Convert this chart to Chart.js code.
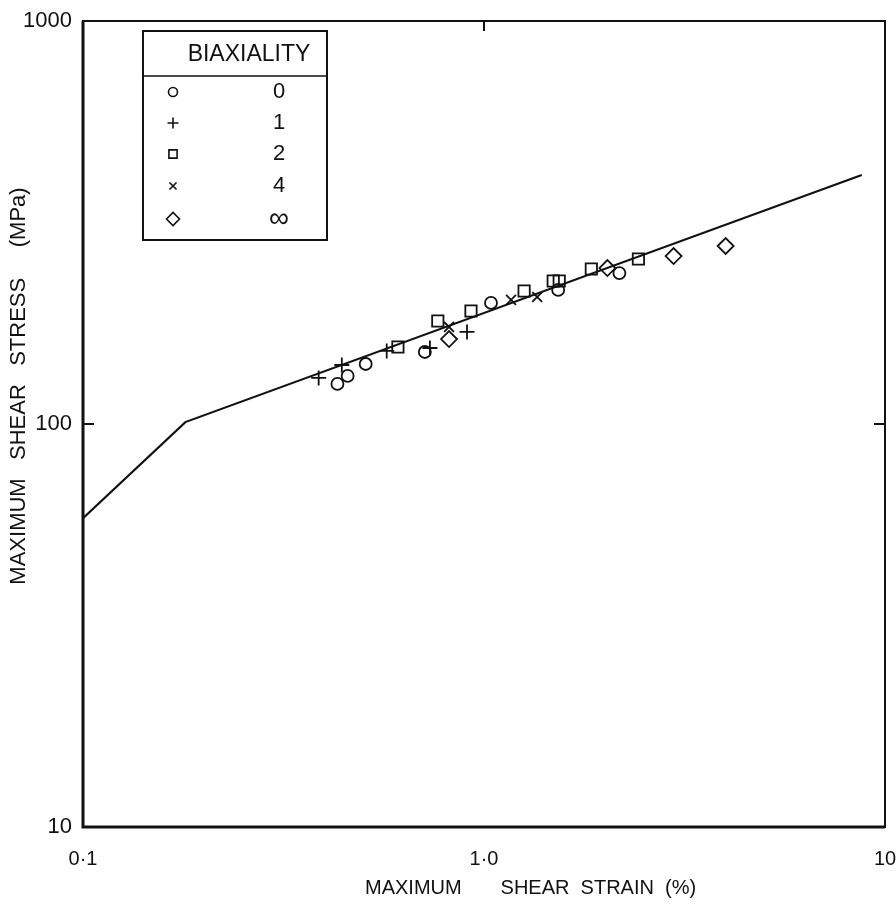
<!DOCTYPE html>
<html>
<head>
<meta charset="utf-8">
<script src="https://cdn.jsdelivr.net/npm/chart.js@4/dist/chart.umd.min.js"></script>
<style>
  body { margin: 0; background: #fff; }
  #shearChart { display: block; }
</style>
</head>
<body>
<canvas id="shearChart" width="896" height="905"></canvas>
<script>
// biaxiality ratio -> marker
const seriesLabels = ['0', '1', '2', '4', '\u221E'];
const seriesStyles = ['circle', 'cross', 'rect', 'crossRot', 'rectRot'];

// maximum shear strain (%) / maximum shear stress (MPa)
const strain0 = [0.431, 0.457, 0.507, 0.712, 1.041, 1.531, 2.176];
const stress0 = [125.7, 131.6, 140.9, 150.9, 199.7, 215.1, 236.9];

const strain1 = [0.387, 0.442, 0.572, 0.733, 0.907];
const stress1 = [130.1, 140.1, 151.8, 154.4, 169.2];

const strain2 = [0.610, 0.767, 0.928, 1.259, 1.488, 1.540, 1.852, 2.427];
const stress2 = [155.3, 180.1, 190.7, 213.8, 226.4, 226.4, 242.4, 256.7];

const strain4 = [0.818, 1.168, 1.357];
const stress4 = [174.1, 203.2, 206.6];

const strainInf = [0.818, 2.031, 2.970, 4.005];
const stressInf = [162.5, 243.8, 261.1, 276.5];

// fitted curve (two straight segments on log-log)
const fitStrain = [0.1, 0.18, 8.75];
const fitStress = [58.4, 101.1, 415];

// axis ticks
const xTickValues = [0.1, 1, 10];
const xTickLabels = ['0\u00B71', '1\u00B70', '10'];
const yTickValues = [10, 100, 1000];
const yTickLabels = ['10', '100', '1000'];

const FONT = "'Liberation Sans', Arial, 'DejaVu Sans', sans-serif";
const INK = '#111';

let toPoints = (xs, ys) => xs.map((x, i) => ({ x: x, y: ys[i] }));

const allStrain = [strain0, strain1, strain2, strain4, strainInf];
const allStress = [stress0, stress1, stress2, stress4, stressInf];
const markerSize = [6, 7.5, 8, 7, 8];

const datasets = [{
  label: 'fit',
  data: toPoints(fitStrain, fitStress),
  showLine: true,
  borderColor: INK,
  borderWidth: 2.2,
  pointRadius: 0,
  tension: 0
}];

seriesLabels.forEach((lab, i) => {
  datasets.push({
    label: lab,
    data: toPoints(allStrain[i], allStress[i]),
    pointStyle: seriesStyles[i],
    pointRadius: markerSize[i],
    pointBorderColor: INK,
    pointBackgroundColor: 'rgba(0,0,0,0)',
    pointBorderWidth: 1.8,
    showLine: false
  });
});

/* marco, marcas interiores, leyenda y titulos de ejes */
const decorations = {
  id: 'decorations',
  afterDraw(chart) {
    const ctx = chart.ctx;
    const a = chart.chartArea;
    const xs = chart.scales.x;
    const ys = chart.scales.y;
    ctx.save();
    ctx.strokeStyle = INK;
    ctx.fillStyle = INK;

    // frame
    ctx.lineWidth = 2;
    ctx.strokeRect(a.left, a.top, a.right - a.left, a.bottom - a.top);
    ctx.lineWidth = 3;
    ctx.beginPath();
    ctx.moveTo(a.left, a.top);
    ctx.lineTo(a.left, a.bottom);
    ctx.lineTo(a.right, a.bottom);
    ctx.stroke();

    // small inner ticks
    ctx.lineWidth = 2;
    const x1 = xs.getPixelForValue(1);
    const y100 = ys.getPixelForValue(100);
    ctx.beginPath();
    ctx.moveTo(x1, a.top); ctx.lineTo(x1, a.top + 10);
    ctx.moveTo(a.left, y100); ctx.lineTo(a.left + 11, y100);
    ctx.moveTo(a.right, y100); ctx.lineTo(a.right - 11, y100);
    ctx.stroke();

    // legend box
    const bx = 143, by = 31, bw = 184, bh = 209;
    ctx.lineWidth = 2;
    ctx.fillStyle = '#fff';
    ctx.fillRect(bx, by, bw, bh);
    ctx.strokeRect(bx, by, bw, bh);
    ctx.lineWidth = 1.5;
    ctx.beginPath();
    ctx.moveTo(bx, by + 45); ctx.lineTo(bx + bw, by + 45);
    ctx.stroke();

    ctx.fillStyle = INK;
    ctx.font = '23px ' + FONT;
    ctx.textAlign = 'center';
    ctx.textBaseline = 'middle';
    ctx.fillText('BIAXIALITY', bx + 106, by + 24);

    const rowY = [92, 123, 154, 186, 219];
    const legendSize = [4.5, 5.5, 5.8, 5, 6.5];
    seriesLabels.forEach((lab, i) => {
      ctx.lineWidth = 1.6;
      ctx.strokeStyle = INK;
      ctx.fillStyle = 'rgba(0,0,0,0)';
      Chart.helpers.drawPoint(ctx, {
        pointStyle: seriesStyles[i],
        radius: legendSize[i],
        borderWidth: 1.6
      }, 173, rowY[i]);
      ctx.fillStyle = INK;
      ctx.font = (i == 4 ? '28px ' : '22px ') + FONT;
      ctx.fillText(lab, 279, rowY[i]);
    });

    // axis titles
    ctx.font = '20px ' + FONT;
    ctx.textAlign = 'left';
    ctx.fillText('MAXIMUM       SHEAR  STRAIN  (%)', 365, 888);

    ctx.save();
    ctx.translate(19, 386);
    ctx.rotate(-Math.PI / 2);
    ctx.textAlign = 'center';
    ctx.font = '22px ' + FONT;
    ctx.fillText('MAXIMUM   SHEAR   STRESS     (MPa)', 0, 0);
    ctx.restore();

    ctx.restore();
  }
};

const config = {
  type: 'scatter',
  data: { datasets: datasets },
  options: {
    responsive: false,
    animation: false,
    events: [],
    layout: { padding: { top: 21, right: 11, left: 0, bottom: 0 } },
    plugins: {
      legend: { display: false },
      tooltip: { enabled: false }
    },
    scales: {
      x: {
        type: 'logarithmic',
        min: 0.1,
        max: 10,
        afterBuildTicks: (scale) => { scale.ticks = xTickValues.map(v => ({ value: v })); },
        afterFit: (scale) => {
          scale.height = 78;
          scale.paddingLeft = 0;
          scale.paddingRight = 0;
        },
        grid: { display: false },
        border: { display: false },
        ticks: {
          autoSkip: false,
          maxRotation: 0,
          padding: 12,
          color: INK,
          font: { family: FONT, size: 20 },
          callback: (value, index) => xTickLabels[index]
        }
      },
      y: {
        type: 'logarithmic',
        min: 10,
        max: 1000,
        afterBuildTicks: (scale) => { scale.ticks = yTickValues.map(v => ({ value: v })); },
        afterFit: (scale) => { scale.width = 83; },
        grid: { display: false },
        border: { display: false },
        ticks: {
          autoSkip: false,
          padding: 3,
          color: INK,
          font: { family: FONT, size: 22 },
          callback: (value, index) => yTickLabels[index]
        }
      }
    }
  },
  plugins: [decorations]
};

const chart = new Chart(document.getElementById('shearChart'), config);
</script>
</body>
</html>
